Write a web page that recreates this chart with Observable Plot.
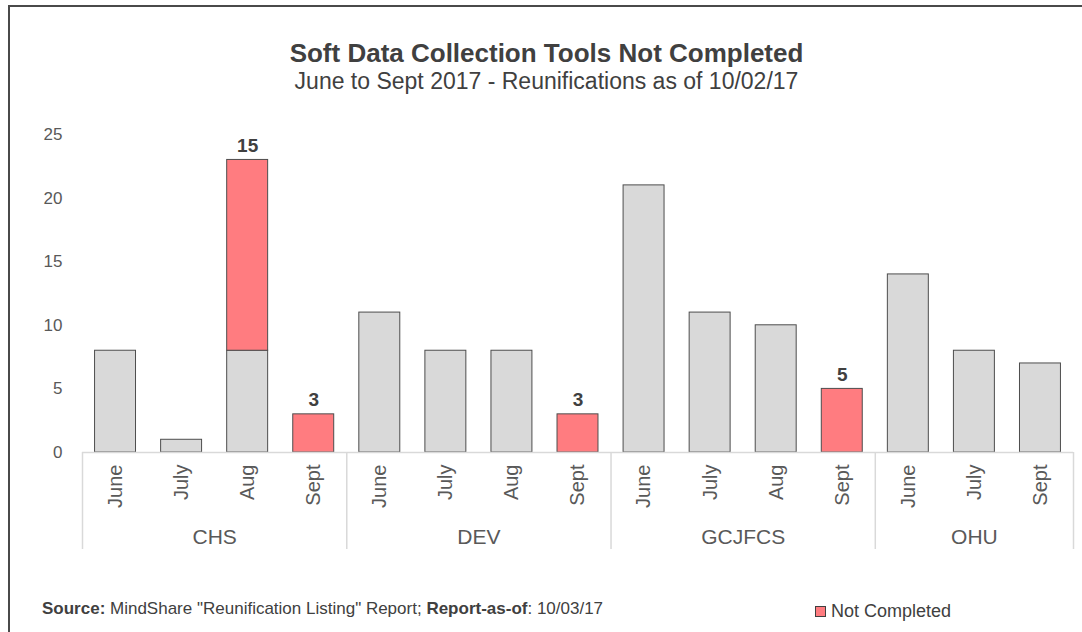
<!DOCTYPE html>
<html>
<head>
<meta charset="utf-8">
<script src="https://cdn.jsdelivr.net/npm/d3@7"></script>
<script src="https://cdn.jsdelivr.net/npm/@observablehq/plot@0.6"></script>
<style>
  html, body { margin: 0; padding: 0; background: #fff; }
  #wrap { position: relative; width: 1082px; height: 632px; overflow: hidden; font-family: "Liberation Sans", Arial, sans-serif; color: #404040; }
  #frame { position: absolute; left: 8px; top: 5px; width: 1080px; height: 640px; border-left: 2px solid #4a4a4a; border-top: 2px solid #4a4a4a; box-sizing: border-box; }
  #title { position: absolute; left: 0; width: 1093px; top: 37px; text-align: center; font-size: 26px; font-weight: bold; color: #404040; line-height: 32px; }
  #subtitle { position: absolute; left: 0; width: 1093px; top: 67px; text-align: center; font-size: 23px; color: #404040; line-height: 28px; }
  #chart { position: absolute; left: 0; top: 0; }
  #source { position: absolute; left: 42px; top: 598px; font-size: 17px; line-height: 22px; color: #404040; }
  #legend { position: absolute; left: 815px; top: 599px; font-size: 18px; line-height: 24px; color: #404040; display: flex; align-items: center; }
  #legend .sw { width: 9px; height: 9px; background: #ff7c80; border: 1px solid #404040; margin-right: 5px; margin-top: 1px; }
</style>
</head>
<body>
<div id="wrap">
  <div id="frame"></div>
  <div id="title">Soft Data Collection Tools Not Completed</div>
  <div id="subtitle">June to Sept 2017 - Reunifications as of 10/02/17</div>
  <div id="chart"></div>
  <div id="source"><b>Source:</b> MindShare "Reunification Listing" Report; <b>Report-as-of</b>: 10/03/17</div>
  <div id="legend"><span class="sw"></span><span>Not Completed</span></div>
</div>
<script>
const orgs = ["CHS", "DEV", "GCJFCS", "OHU"];
const orgOfBar = ["CHS","CHS","CHS","CHS","DEV","DEV","DEV","DEV","GCJFCS","GCJFCS","GCJFCS","GCJFCS","OHU","OHU","OHU"];
const months = ["June","July","Aug","Sept","June","July","Aug","Sept","June","July","Aug","Sept","June","July","Sept"];
const completed = [8, 1, 8, 0, 11, 8, 8, 0, 21, 11, 10, 0, 14, 8, 7];
const notCompleted = [0, 0, 15, 3, 0, 0, 0, 3, 0, 0, 0, 5, 0, 0, 0];
const yTicks = [0, 5, 10, 15, 20, 25];

const rows = months.map((m, i) => ({i, org: orgOfBar[i], month: m, done: completed[i], notDone: notCompleted[i]}));
const grayRows = rows.filter(d => d.done > 0);
const redRows = rows.filter(d => d.notDone > 0);

const groups = orgs.map(o => {
  const idx = rows.filter(r => r.org === o).map(r => r.i);
  return {org: o, first: d3.min(idx), last: d3.max(idx), mid: d3.mean(idx)};
});
const bounds = [groups[0].first - 0.5, ...groups.map(g => g.last + 0.5)];

const half = 0.31;
const plot = Plot.plot({
  width: 1082,
  height: 560,
  marginTop: 134,
  marginBottom: 108,
  marginLeft: 82,
  marginRight: 9,
  style: {fontFamily: "'Liberation Sans', Arial, sans-serif", color: "#595959", background: "transparent", overflow: "visible"},
  x: {domain: [-0.5, months.length - 0.5], axis: null},
  y: {domain: [0, 25], ticks: yTicks, tickSize: 0, tickPadding: 20, label: null, tickFormat: d => String(d)},
  marks: [
    Plot.rectY(grayRows, {x1: d => d.i - half, x2: d => d.i + half, y1: 0, y2: d => d.done, fill: "#d9d9d9", stroke: "#4d4d4d", strokeWidth: 1}),
    Plot.rectY(redRows, {x1: d => d.i - half, x2: d => d.i + half, y1: d => d.done, y2: d => d.done + d.notDone, fill: "#ff7c80", stroke: "#4d4d4d", strokeWidth: 1}),
    Plot.text(redRows, {x: "i", y: d => d.done + d.notDone, text: d => String(d.notDone), dy: -14, fontSize: 19, fontWeight: "bold", fill: "#404040"}),
    Plot.ruleY([0], {stroke: "#d9d9d9", strokeWidth: 1.5}),
    Plot.ruleX(bounds, {x: d => d, y1: 0, y2: 0, insetBottom: -97, stroke: "#d9d9d9", strokeWidth: 1.5}),
    Plot.text(rows, {x: "i", y: 0, text: "month", rotate: -90, textAnchor: "end", dy: 12, fontSize: 20, fill: "#595959"}),
    Plot.text(groups, {x: "mid", y: 0, text: "org", dy: 85, fontSize: 21, fill: "#595959"})
  ]
});
const yAxis = plot.querySelector("g[aria-label='y-axis']") || plot.querySelector("g[aria-label='y-axis tick label']");
if (yAxis) yAxis.setAttribute("font-size", "17");
document.getElementById("chart").appendChild(plot);
</script>
</body>
</html>
